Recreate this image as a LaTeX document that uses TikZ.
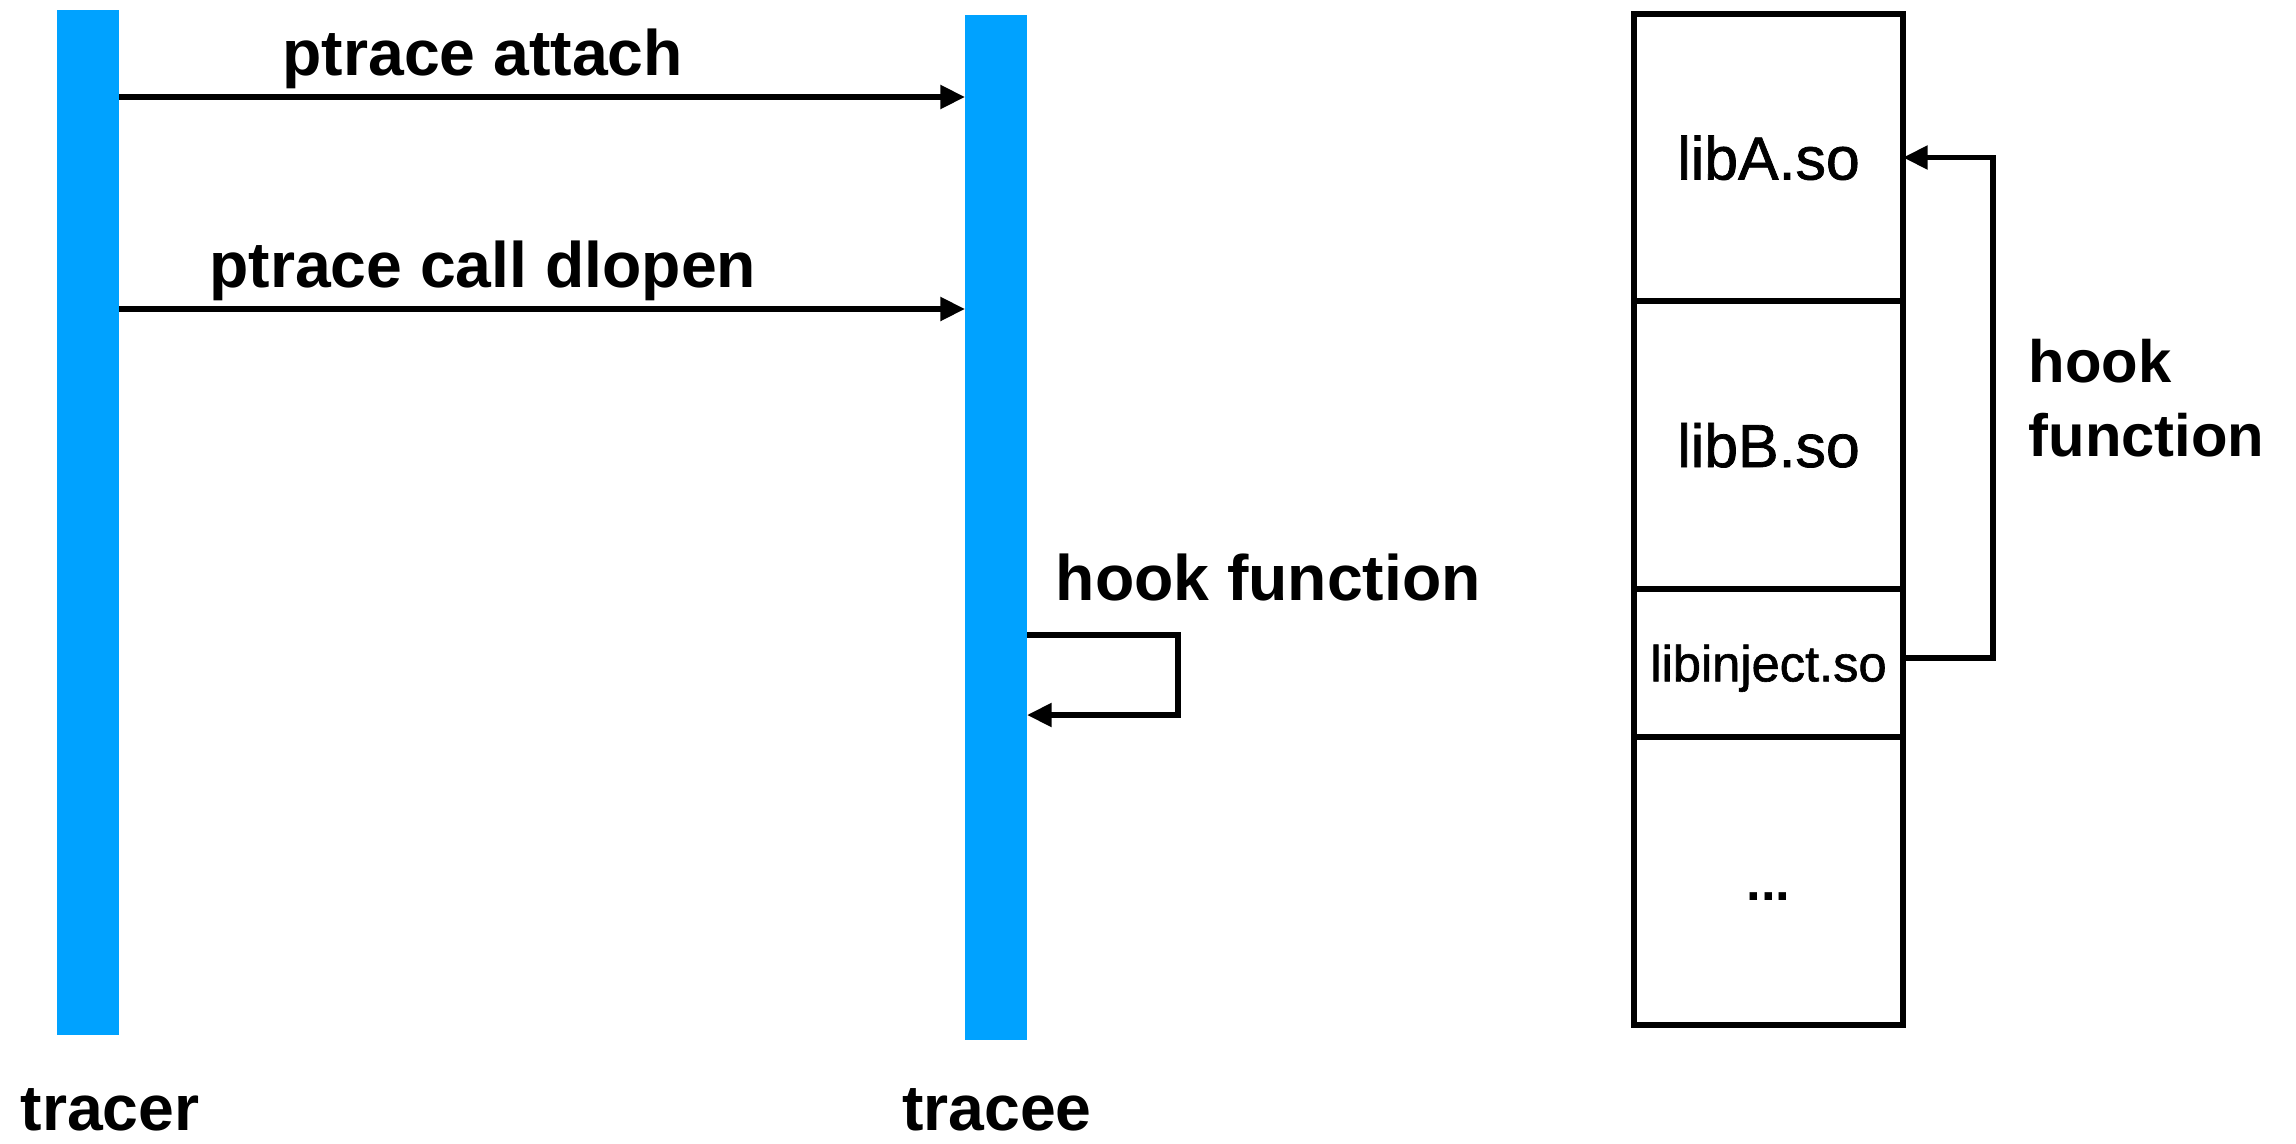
\documentclass[tikz,border=0pt]{standalone}
\usepackage{fontspec}
\setmainfont{Liberation Sans}
\newfontfamily\libfont{Liberation Sans}[BoldFont=Liberation Sans, BoldFeatures={FakeBold=1.2}]
\usetikzlibrary{arrows.meta, positioning}
\definecolor{barblue}{RGB}{0,162,255}
\tikzset{
  bar/.style={fill=barblue, draw=none, minimum width=0.62cm, minimum height=10.25cm, inner sep=0pt, outer sep=0pt},
  msg/.style={-{Triangle[length=7pt, width=6.5pt]}, line width=1.6pt},
  lbl/.style={font=\fontsize{18.3}{22}\selectfont\bfseries, inner sep=0pt},
  cell/.style={draw, line width=1.6pt, minimum width=2.69cm, inner sep=0pt, outer sep=0pt, text depth=0pt, font=\fontsize{17.3}{20}\selectfont\libfont\bfseries}
}

\begin{document}
\begin{tikzpicture}
\useasboundingbox (0,0) rectangle (22.96,-11.43);

\node[bar] (tracer) at (0.88,-5.225) {};
\node[bar] (tracee) at (9.96,-5.275) {};

\node[lbl, anchor=base] (tracername) at (1.10,-11.30) {tracer};
\node[lbl, anchor=base] (traceename) at (9.97,-11.30) {tracee};

\draw[msg] (tracer.east |- 0,-0.97) -- node[lbl, above=1.5pt, pos=0.43] (attach) {ptrace attach} (tracee.west |- 0,-0.97);
\draw[msg] (tracer.east |- 0,-3.09) -- node[lbl, above=1.5pt, pos=0.43] (dlopen) {ptrace call dlopen} (tracee.west |- 0,-3.09);

% self loop on the tracee
\node[lbl, anchor=base west] (hookself) at (10.55,-6.00) {hook function};
\draw[msg] (tracee.east |- 0,-6.35) -| ++(1.51,-0.80) -- (tracee.east |- 0,-7.15);

% library stack
\node[cell, minimum height=2.87cm] (libA) at (17.685,-1.575) {libA.so};
\node[cell, minimum height=2.88cm, below=0pt of libA] (libB) {libB.so};
\node[cell, minimum height=1.48cm, below=0pt of libB, font=\fontsize{14.4}{17}\selectfont\libfont\bfseries] (libinject) {libinject.so};
\node[cell, minimum height=2.88cm, below=0pt of libinject, font=\fontsize{15}{18}\selectfont\bfseries] (rest) {\vphantom{l}...};

\draw[msg] ([yshift=0.05cm]libinject.east) -- ++(0.9,0) |- (libA.east);
\node[font=\fontsize{17}{21.3}\selectfont\bfseries, inner sep=0pt, align=left, anchor=north west] (hookstack) at (20.28,-3.38) {hook\\function};
\end{tikzpicture}
\end{document}
